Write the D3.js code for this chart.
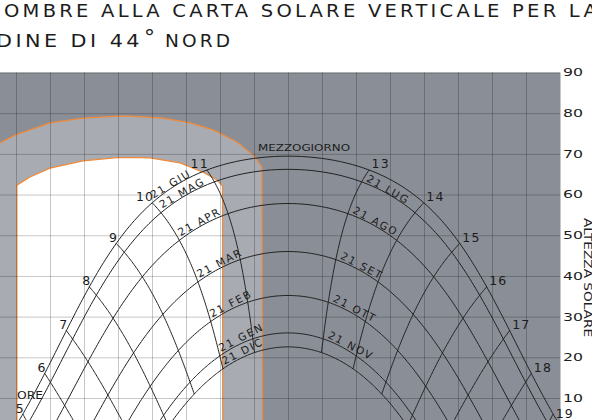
<!DOCTYPE html>
<html><head><meta charset="utf-8">
<script src="https://cdn.jsdelivr.net/npm/d3@7"></script>
<style>
body{margin:0;background:#fff;overflow:hidden}
svg{display:block}
text{font-family:"DejaVu Sans",sans-serif;fill:#1c1c1c}
</style></head>
<body><svg id="c" width="592" height="420"></svg>
<script>
// ---- data ----
const LAT = 44;
const titleLine1 = "OMBRE ALLA CARTA SOLARE VERTICALE PER LA";
const titleLine2 = ["DINE DI 44","°","NORD"];
const monthLeft  = ["21 GIU","21 MAG","21 APR","21 MAR","21 FEB","21 GEN","21 DIC"];
const monthRight = ["","21 LUG","21 AGO","21 SET","21 OTT","21 NOV",""];
const declinations = [23.44, 20.2, 11.8, 0, -10.8, -20.0, -23.44];
const hours = [5,6,7,8,9,10,11,13,14,15,16,17,18,19];
const altTicks = [10,20,30,40,50,60,70,80,90];
const azGrid = [45,60,75,90,105,120,135,150,165,180,195,210,225,240,255,270,285,300];
const altGrid = [0,10,20,30,40,50,60,70,80,90];
// shading-mask outlines [azimuth, altitude]
const outerMask = [[45,0],[45,70.6],[52.9,72.7],[59.6,74.6],[75,77.6],[89.6,78.8],[104.6,79.3],[110.3,79.3],[124.9,78.8],[136.8,77.6],[146.9,75.9],[157.5,72.9],[164.6,69.7],[166.3,68.5],[168.5,66.8],[168.8,0]];
const innerMask = [[60.4,0],[60.4,62.3],[66.2,64.3],[75,66.5],[89.6,68.3],[104.6,69.1],[114.7,69.1],[119.1,69.0],[132.4,67.8],[142.5,65.5],[148.7,63.6],[151.1,62.1],[151.2,0]];

// ---- scales ----
const svg = d3.select("#c");
const x = d3.scaleLinear().domain([60,300]).range([16,560]);
const y = d3.scaleLinear().domain([0,90]).range([438.7,72.5]);
const rad = Math.PI/180;
function sun(decl,H){
  const p=LAT*rad,d=decl*rad,h=H*rad;
  const alt=Math.asin(Math.sin(p)*Math.sin(d)+Math.cos(p)*Math.cos(d)*Math.cos(h));
  const A=Math.atan2(Math.sin(h),Math.sin(p)*Math.cos(h)-Math.cos(p)*Math.tan(d));
  return {az:180+A/rad, alt:alt/rad};
}
const line = d3.line().x(p=>x(p.az)).y(p=>y(p.alt));
const maskLine = d3.line().x(p=>x(p[0])).y(p=>y(p[1]));

const X0 = x(45), X1 = x(300), Y0 = y(0), Y1 = y(90);
svg.append("defs").append("clipPath").attr("id","plot")
  .append("rect").attr("x",X0).attr("y",Y1).attr("width",X1-X0).attr("height",Y0-Y1);

// background
svg.append("rect").attr("x",X0).attr("y",Y1).attr("width",X1-X0).attr("height",Y0-Y1).attr("fill","#8a8e96");
// masks
svg.append("path").attr("d",maskLine(outerMask)+"Z").attr("fill","#a8abb1").attr("stroke","#f08a3a").attr("stroke-width",1.2);
svg.append("path").attr("d",maskLine(innerMask)+"Z").attr("fill","#ffffff").attr("stroke","#f08a3a").attr("stroke-width",1.2);

// grid
const gv = svg.append("g").attr("transform",`translate(0,${Y0})`)
  .call(d3.axisBottom(x).tickValues(azGrid).tickSize(-(Y0-Y1)).tickFormat(""));
const gh = svg.append("g").attr("transform",`translate(${X1},0)`)
  .call(d3.axisRight(y).tickValues(altGrid).tickSize(-(X1-X0)).tickFormat(""));
[gv,gh].forEach(g=>{g.select(".domain").remove();g.selectAll("line").attr("stroke","#000").attr("stroke-opacity",0.22).attr("stroke-width",1);});

// curves
const curves = svg.append("g").attr("clip-path","url(#plot)").attr("fill","none").attr("stroke","#222").attr("stroke-width",1);
declinations.forEach(dc=>{
  const H0 = Math.acos(-Math.tan(LAT*rad)*Math.tan(dc*rad))/rad;
  const pts = d3.range(0,201).map(i=>sun(dc,-H0+2*H0*i/200));
  curves.append("path").attr("d",line(pts));
});
hours.forEach(h=>{
  const H=(h-12)*15;
  const pts = d3.range(0,101).map(i=>sun(-23.44+46.88*i/100,H)).filter(p=>p.alt>-2);
  curves.append("path").attr("d",line(pts));
});

// hour labels
hours.forEach(h=>{
  const p=sun(23.44,(h-12)*15);
  const morning=h<12;
  svg.append("text").attr("x",x(p.az)+(morning?2:2.5)).attr("y",y(p.alt)+(h===19?3.5:-1.5))
    .attr("text-anchor",morning?"end":"start").attr("font-size",12.5).attr("letter-spacing",1.2)
    .text(h);
});

// month labels along curves
function monthLabel(txt,dc,Ha,Hb){
  const a=sun(dc,Ha), b=sun(dc,Hb);
  const ax=x(a.az), ay=y(a.alt), bx=x(b.az), by=y(b.alt);
  const ang=Math.atan2(by-ay,bx-ax);
  const ox = ax + Math.sin(ang)*3, oy = ay - Math.cos(ang)*3;
  svg.append("text").attr("transform",`translate(${ox},${oy}) rotate(${ang/rad})`)
    .attr("x",3).attr("font-size",10.5).attr("letter-spacing",1.6).text(txt);
}
monthLeft.forEach((t,i)=>{ if(t) monthLabel(t,declinations[i],-30,-15); });
monthRight.forEach((t,i)=>{ if(t) monthLabel(t,declinations[i],15,30); });

// noon label & ORE
svg.append("text").attr("x",258).attr("y",151).attr("font-size",9.5).attr("textLength",92).attr("lengthAdjust","spacingAndGlyphs").text("MEZZOGIORNO");
svg.append("text").attr("x",17).attr("y",399).attr("font-size",10).attr("textLength",26).attr("lengthAdjust","spacingAndGlyphs").text("ORE");

// right axis labels
const ax = svg.append("g").attr("transform",`translate(${X1},0)`)
  .call(d3.axisRight(y).tickValues(altTicks).tickSize(0).tickPadding(3));
ax.select(".domain").remove();
ax.selectAll("text").attr("font-family","DejaVu Sans").attr("font-size",10.5).attr("fill","#1c1c1c")
  .attr("textLength",20).attr("lengthAdjust","spacingAndGlyphs");
svg.append("text").attr("transform","translate(584,218) rotate(90)").attr("font-size",11)
  .attr("textLength",119).attr("lengthAdjust","spacingAndGlyphs").text("ALTEZZA SOLARE");

// title
svg.append("text").attr("x",4).attr("y",17.3).attr("font-size",18).attr("letter-spacing",3)
  .attr("textLength",596).attr("lengthAdjust","spacingAndGlyphs").text(titleLine1);
const t2 = [[-4,147,46.7,18],[144,0,44.5,22],[165,68,46.7,18]];
titleLine2.forEach((w,i)=>{
  const t=svg.append("text").attr("x",t2[i][0]).attr("y",t2[i][2]).attr("font-size",t2[i][3]).text(w);
  if(t2[i][1]) t.attr("letter-spacing",3).attr("textLength",t2[i][1]).attr("lengthAdjust","spacingAndGlyphs");
});
</script></body></html>
